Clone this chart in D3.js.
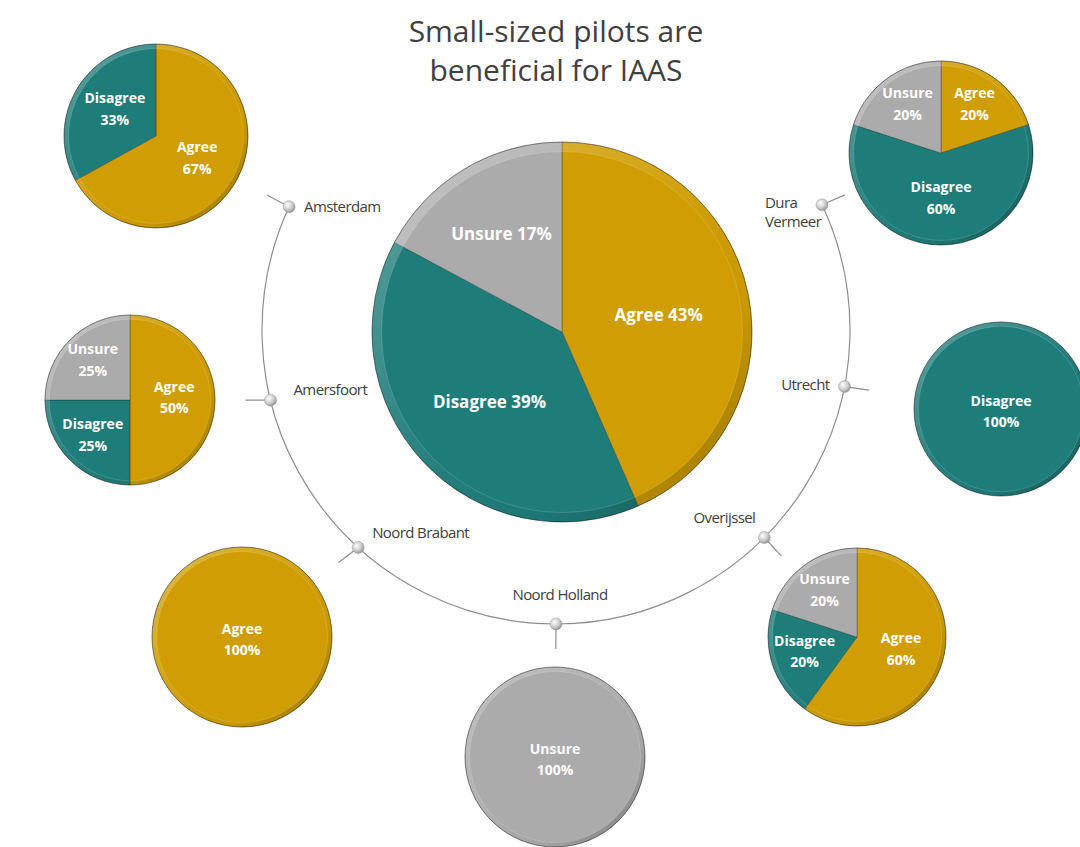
<!DOCTYPE html>
<html>
<head>
<meta charset="utf-8">
<script src="https://cdn.jsdelivr.net/npm/d3@7"></script>
<style>
  body { margin: 0; background: #fff; }
  text { font-family: "Open Sans", "Noto Sans", sans-serif; }
</style>
</head>
<body>
<div id="chart"></div>
<script>
// data
var categories = ["Agree", "Disagree", "Unsure"];
var colors = ["#D09D02", "#1E7C79", "#ACABAB"];
var overall = [43, 39, 17];
var regions = ["Amsterdam", "Amersfoort", "Noord Brabant", "Noord Holland", "Overijssel", "Utrecht", "Dura Vermeer"];
var agree    = [67, 50, 100, 0, 60, 0, 20];
var disagree = [33, 25, 0, 0, 20, 100, 60];
var unsure   = [0, 25, 0, 100, 20, 0, 20];
var titleLines = ["Small-sized pilots are", "beneficial for IAAS"];

// layout
var width = 1080, height = 847;
var centre = { x: 562, y: 332, r: 190 };
var ring = { x: 556, y: 330, r: 294, start: 64.8, end: 294.8 };
var knobAngles = [294.8, 256.2, 222.3, 180, 134.9, 101.1, 64.8];
var pieCentres = [[156, 136, 92], [130, 400, 85], [242, 637, 90], [555, 757, 90], [857, 637, 89], [1001, 409, 87], [941, 153, 92]];
// label offset from knob: dx, dy, anchor
var labelPos = [[15, 5, "start"], [23, -5, "start"], [14, -9, "start"], [4, -24, "middle"], [-9, -15, "end"], [-15, 3, "end"], [-57, 3, "start"]];

var color = d3.scaleOrdinal().domain(categories).range(colors);
var rad = function (deg) { return deg * Math.PI / 180; };

var svg = d3.select("#chart")
    .append("svg")
    .attr("width", width)
    .attr("height", height);

svg.append("rect").attr("width", width).attr("height", height).attr("fill", "#fff");

var defs = svg.append("defs");
var rim = defs.append("linearGradient")
    .attr("id", "rim")
    .attr("x1", 0).attr("y1", 0).attr("x2", 1).attr("y2", 1);
rim.append("stop").attr("offset", "0%").attr("stop-color", "#fff").attr("stop-opacity", 0.3);
rim.append("stop").attr("offset", "45%").attr("stop-color", "#fff").attr("stop-opacity", 0.06);
rim.append("stop").attr("offset", "70%").attr("stop-color", "#000").attr("stop-opacity", 0.03);
rim.append("stop").attr("offset", "100%").attr("stop-color", "#000").attr("stop-opacity", 0.3);

var knobGrad = defs.append("radialGradient")
    .attr("id", "knob")
    .attr("cx", "38%").attr("cy", "35%").attr("r", "70%");
knobGrad.append("stop").attr("offset", "0%").attr("stop-color", "#ffffff");
knobGrad.append("stop").attr("offset", "60%").attr("stop-color", "#c8c8c8");
knobGrad.append("stop").attr("offset", "100%").attr("stop-color", "#8c8c8c");

// Title
svg.append("text")
    .attr("x", 556)
    .attr("y", 42)
    .attr("text-anchor", "middle")
    .attr("font-size", 30)
    .attr("fill", "#404040")
    .selectAll("tspan")
    .data(titleLines)
    .enter()
    .append("tspan")
    .attr("x", 556)
    .attr("dy", function (d, i) { return i ? 39 : 0; })
    .text(function (d) { return d; });

// ring
var p = d3.path();
p.arc(ring.x, ring.y, ring.r, rad(ring.start - 90), rad(ring.end - 90), false);
svg.append("path")
    .attr("d", p.toString())
    .attr("fill", "none")
    .attr("stroke", "#8f8f8f")
    .attr("stroke-width", 1.2);

function drawPie(cx, cy, r, values, big) {
    var g = svg.append("g").attr("transform", "translate(" + cx + "," + cy + ")");
    var data = categories.map(function (c, i) { return { cat: c, value: values[i] }; })
        .filter(function (d) { return d.value > 0; });
    var total = d3.sum(data, function (d) { return d.value; });
    var pie = d3.pie().sort(null).value(function (d) { return d.value; });
    var arcs = pie(data);
    var arc = d3.arc().innerRadius(0).outerRadius(r);

    g.selectAll(".slice")
        .data(arcs)
        .enter()
        .append("path")
        .attr("class", "slice")
        .attr("d", arc)
        .attr("fill", function (d) { return color(d.data.cat); })
        .attr("stroke", "rgba(0,0,0,0.3)")
        .attr("stroke-width", 0.8);

    // bevel rim
    g.append("path")
        .attr("d", d3.arc().innerRadius(r * 0.95).outerRadius(r).startAngle(0).endAngle(2 * Math.PI)())
        .attr("fill", "url(#rim)");
    g.append("circle")
        .attr("r", r * 0.95)
        .attr("fill", "none")
        .attr("stroke", "rgba(255,255,255,0.15)")
        .attr("stroke-width", 1);
    g.append("circle")
        .attr("r", r)
        .attr("fill", "none")
        .attr("stroke", "rgba(0,0,0,0.3)")
        .attr("stroke-width", 1);

    var labels = g.selectAll(".lbl")
        .data(arcs)
        .enter()
        .append("text")
        .attr("class", "lbl")
        .attr("text-anchor", "middle")
        .attr("fill", "#fff")
        .attr("font-weight", "bold")
        .attr("font-size", big ? 17 : 14)
        .attr("transform", function (d) {
            var share = d.data.value / total;
            if (share >= 0.999) return "translate(0,5)";
            var f = share <= 0.25 ? 0.62 : 0.52;
            var a = (d.startAngle + d.endAngle) / 2;
            return "translate(" + (Math.sin(a) * r * f) + "," + (-Math.cos(a) * r * f) + ")";
        });

    if (big) {
        labels.attr("dy", "0.55em")
            .text(function (d) { return d.data.cat + " " + d.data.value + "%"; });
    } else {
        labels.append("tspan").attr("x", 0).attr("dy", "-0.6em")
            .text(function (d) { return d.data.cat; });
        labels.append("tspan").attr("x", 0).attr("dy", "1.55em")
            .text(function (d) { return d.data.value + "%"; });
    }
}

// small pies
regions.forEach(function (name, i) {
    var pc = pieCentres[i];
    drawPie(pc[0], pc[1], pc[2], [agree[i], disagree[i], unsure[i]], false);
});

// main pie
drawPie(centre.x, centre.y, centre.r, overall, true);

// knobs, ticks and region labels
regions.forEach(function (name, i) {
    var a = rad(knobAngles[i]);
    var kx = ring.x + Math.sin(a) * ring.r;
    var ky = ring.y - Math.cos(a) * ring.r;
    var pc = pieCentres[i];
    var dx = pc[0] - kx, dy = pc[1] - ky, len = Math.sqrt(dx * dx + dy * dy);

    svg.append("line")
        .attr("x1", kx).attr("y1", ky)
        .attr("x2", kx + dx / len * 25).attr("y2", ky + dy / len * 25)
        .attr("stroke", "#8f8f8f")
        .attr("stroke-width", 1.2);

    svg.append("circle")
        .attr("cx", kx).attr("cy", ky).attr("r", 6)
        .attr("fill", "url(#knob)")
        .attr("stroke", "#9a9a9a")
        .attr("stroke-width", 0.5);

    var lp = labelPos[i];
    var t = svg.append("text")
        .attr("x", kx + lp[0])
        .attr("y", ky + lp[1])
        .attr("text-anchor", lp[2])
        .attr("font-size", 15)
        .attr("letter-spacing", -0.6)
        .attr("fill", "#404040");
    if (name === "Dura Vermeer") {
        name.split(" ").forEach(function (w, j) {
            t.append("tspan").attr("x", kx + lp[0]).attr("dy", j ? 19 : 0).text(w);
        });
    } else {
        t.text(name);
    }
});
</script>
</body>
</html>
